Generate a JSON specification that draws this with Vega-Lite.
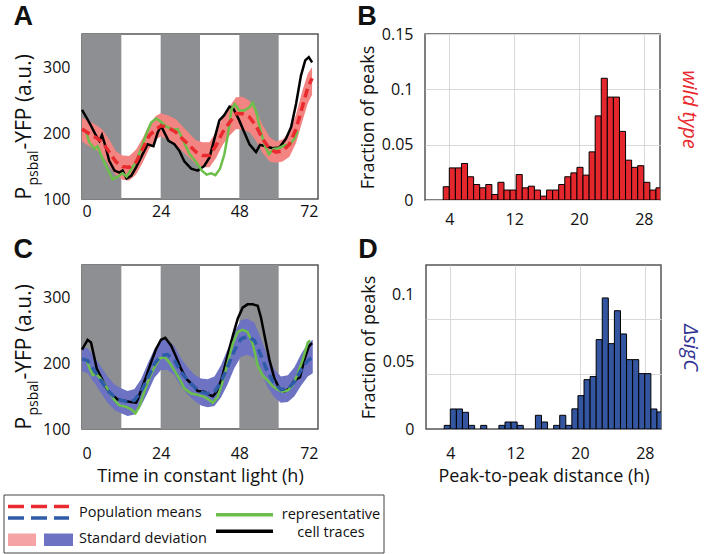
{
  "$schema": "https://vega.github.io/schema/vega-lite/v6.json",
  "background": "white",
  "padding": {"left": 3, "top": 2, "right": 6, "bottom": 0},
  "spacing": 7,
  "datasets": {
    "bands": [{"start": 0, "end": 12}, {"start": 24, "end": 36}, {"start": 48, "end": 60}],
    "wt_mean": [
      {"t": 0, "mean": 206, "lo": 187, "hi": 223}, {"t": 2.2, "mean": 199, "lo": 180, "hi": 218},
      {"t": 4.3, "mean": 193, "lo": 175, "hi": 212}, {"t": 6.3, "mean": 186, "lo": 166, "hi": 205},
      {"t": 8.3, "mean": 171, "lo": 150, "hi": 190}, {"t": 10.4, "mean": 156, "lo": 136, "hi": 172},
      {"t": 12.4, "mean": 149, "lo": 129, "hi": 166}, {"t": 14.4, "mean": 148, "lo": 128, "hi": 165},
      {"t": 16.5, "mean": 156, "lo": 137, "hi": 175}, {"t": 18.5, "mean": 176, "lo": 155, "hi": 192},
      {"t": 20.5, "mean": 196, "lo": 176, "hi": 213}, {"t": 22.6, "mean": 206, "lo": 190, "hi": 226},
      {"t": 24.1, "mean": 211, "lo": 195, "hi": 230}, {"t": 26.1, "mean": 209, "lo": 190, "hi": 227},
      {"t": 28.7, "mean": 201, "lo": 182, "hi": 221}, {"t": 30.7, "mean": 191, "lo": 172, "hi": 210},
      {"t": 32.8, "mean": 181, "lo": 162, "hi": 199}, {"t": 34.8, "mean": 171, "lo": 153, "hi": 189},
      {"t": 36.8, "mean": 166, "lo": 148, "hi": 186}, {"t": 38.9, "mean": 166, "lo": 148, "hi": 186},
      {"t": 40.9, "mean": 181, "lo": 162, "hi": 202}, {"t": 42.9, "mean": 201, "lo": 182, "hi": 224},
      {"t": 45.0, "mean": 216, "lo": 196, "hi": 240}, {"t": 47.0, "mean": 229, "lo": 206, "hi": 254},
      {"t": 49.0, "mean": 229, "lo": 205, "hi": 255}, {"t": 51.1, "mean": 224, "lo": 201, "hi": 249},
      {"t": 53.1, "mean": 211, "lo": 188, "hi": 234}, {"t": 55.1, "mean": 191, "lo": 170, "hi": 212},
      {"t": 57.2, "mean": 176, "lo": 157, "hi": 194}, {"t": 59.2, "mean": 171, "lo": 155, "hi": 187},
      {"t": 61.2, "mean": 173, "lo": 157, "hi": 190}, {"t": 63.3, "mean": 183, "lo": 164, "hi": 202},
      {"t": 65.3, "mean": 206, "lo": 185, "hi": 228}, {"t": 67.3, "mean": 241, "lo": 219, "hi": 265},
      {"t": 68.9, "mean": 269, "lo": 245, "hi": 290}, {"t": 70.2, "mean": 283, "lo": 258, "hi": 300}
    ],
    "wt_black": [
      {"t": 0, "v": 235}, {"t": 1.2, "v": 225}, {"t": 2.75, "v": 211}, {"t": 4.27, "v": 196},
      {"t": 5.3, "v": 188}, {"t": 6.1, "v": 197}, {"t": 7.1, "v": 181}, {"t": 8.3, "v": 158},
      {"t": 9.9, "v": 143}, {"t": 11.4, "v": 140}, {"t": 12.4, "v": 143}, {"t": 13.6, "v": 131},
      {"t": 15.0, "v": 135}, {"t": 16.5, "v": 148}, {"t": 18.5, "v": 168}, {"t": 20.0, "v": 183},
      {"t": 21.8, "v": 180}, {"t": 23.1, "v": 201}, {"t": 24.1, "v": 211}, {"t": 25.1, "v": 201},
      {"t": 26.4, "v": 188}, {"t": 28.2, "v": 183}, {"t": 29.7, "v": 173}, {"t": 31.2, "v": 157},
      {"t": 33.3, "v": 146}, {"t": 35.3, "v": 143}, {"t": 37.3, "v": 150}, {"t": 38.9, "v": 163},
      {"t": 40.4, "v": 191}, {"t": 41.9, "v": 219}, {"t": 43.4, "v": 227}, {"t": 45.0, "v": 240},
      {"t": 46.2, "v": 237}, {"t": 47.8, "v": 221}, {"t": 49.5, "v": 201}, {"t": 51.1, "v": 183},
      {"t": 53.1, "v": 171}, {"t": 54.3, "v": 182}, {"t": 56.1, "v": 180}, {"t": 58.2, "v": 177},
      {"t": 60.2, "v": 178}, {"t": 62.2, "v": 191}, {"t": 63.8, "v": 209}, {"t": 65.3, "v": 244},
      {"t": 66.8, "v": 287}, {"t": 68.1, "v": 310}, {"t": 69.2, "v": 315}, {"t": 70.2, "v": 307}
    ],
    "wt_green": [
      {"t": 1.2, "v": 203}, {"t": 2.2, "v": 186}, {"t": 3.8, "v": 176}, {"t": 4.8, "v": 180},
      {"t": 6.3, "v": 161}, {"t": 7.8, "v": 145}, {"t": 9.4, "v": 130}, {"t": 10.9, "v": 134},
      {"t": 12.4, "v": 139}, {"t": 13.6, "v": 134}, {"t": 15.0, "v": 145}, {"t": 16.5, "v": 156},
      {"t": 18.0, "v": 176}, {"t": 19.5, "v": 197}, {"t": 21.1, "v": 216}, {"t": 22.6, "v": 222},
      {"t": 24.1, "v": 217}, {"t": 25.6, "v": 210}, {"t": 27.7, "v": 205}, {"t": 29.2, "v": 206},
      {"t": 30.7, "v": 191}, {"t": 32.8, "v": 168}, {"t": 34.8, "v": 156}, {"t": 36.6, "v": 143},
      {"t": 38.0, "v": 137}, {"t": 39.4, "v": 139}, {"t": 40.7, "v": 136}, {"t": 42.1, "v": 146},
      {"t": 43.4, "v": 167}, {"t": 44.5, "v": 197}, {"t": 45.6, "v": 236}, {"t": 46.6, "v": 244},
      {"t": 48.0, "v": 234}, {"t": 49.5, "v": 234}, {"t": 51.1, "v": 239}, {"t": 52.1, "v": 246},
      {"t": 53.3, "v": 229}, {"t": 54.6, "v": 201}, {"t": 55.8, "v": 181}, {"t": 57.0, "v": 168},
      {"t": 58.4, "v": 176}, {"t": 60.0, "v": 177}, {"t": 61.7, "v": 181}, {"t": 63.5, "v": 183},
      {"t": 64.8, "v": 191}, {"t": 65.8, "v": 203}
    ],
    "sc_mean": [
      {"t": 0, "mean": 207, "lo": 188, "hi": 224}, {"t": 1.7, "mean": 204.5, "lo": 185, "hi": 223},
      {"t": 3.8, "mean": 189, "lo": 170, "hi": 210}, {"t": 5.8, "mean": 174, "lo": 155, "hi": 195},
      {"t": 7.8, "mean": 159, "lo": 140, "hi": 180}, {"t": 9.9, "mean": 149, "lo": 129, "hi": 168},
      {"t": 11.9, "mean": 144, "lo": 124, "hi": 162}, {"t": 13.9, "mean": 141, "lo": 120, "hi": 158},
      {"t": 16.0, "mean": 144, "lo": 122, "hi": 161}, {"t": 18.0, "mean": 157, "lo": 135, "hi": 176},
      {"t": 20.0, "mean": 177, "lo": 155, "hi": 199}, {"t": 22.1, "mean": 199.5, "lo": 178, "hi": 222},
      {"t": 24.1, "mean": 212, "lo": 190, "hi": 235}, {"t": 26.1, "mean": 213.5, "lo": 190, "hi": 236},
      {"t": 28.2, "mean": 204.5, "lo": 182, "hi": 226}, {"t": 30.2, "mean": 187, "lo": 165, "hi": 208},
      {"t": 32.2, "mean": 174, "lo": 153, "hi": 194}, {"t": 34.3, "mean": 164, "lo": 143, "hi": 183},
      {"t": 36.3, "mean": 156.5, "lo": 136, "hi": 177}, {"t": 38.3, "mean": 154, "lo": 133, "hi": 176},
      {"t": 40.4, "mean": 156.5, "lo": 135, "hi": 180}, {"t": 42.4, "mean": 171.7, "lo": 148, "hi": 197},
      {"t": 44.4, "mean": 194.4, "lo": 168, "hi": 221}, {"t": 46.5, "mean": 219.7, "lo": 193, "hi": 248},
      {"t": 48.5, "mean": 237.4, "lo": 210, "hi": 266}, {"t": 50.5, "mean": 241, "lo": 213, "hi": 268},
      {"t": 52.6, "mean": 235, "lo": 208, "hi": 262}, {"t": 54.6, "mean": 212, "lo": 187, "hi": 238},
      {"t": 56.6, "mean": 187, "lo": 164, "hi": 211}, {"t": 58.7, "mean": 169, "lo": 148, "hi": 191},
      {"t": 60.7, "mean": 160, "lo": 140, "hi": 180}, {"t": 62.8, "mean": 161.6, "lo": 141, "hi": 182},
      {"t": 64.8, "mean": 171.7, "lo": 150, "hi": 194}, {"t": 66.8, "mean": 189.4, "lo": 166, "hi": 214},
      {"t": 68.9, "mean": 204.5, "lo": 180, "hi": 231}, {"t": 70.4, "mean": 209.6, "lo": 185, "hi": 236}
    ],
    "sc_black": [
      {"t": 0, "v": 221}, {"t": 0.7, "v": 227}, {"t": 1.7, "v": 236}, {"t": 2.75, "v": 232},
      {"t": 3.5, "v": 215}, {"t": 4.5, "v": 192}, {"t": 5.8, "v": 179}, {"t": 7.3, "v": 164},
      {"t": 8.9, "v": 152}, {"t": 9.9, "v": 149}, {"t": 10.9, "v": 145}, {"t": 12.9, "v": 143},
      {"t": 15.0, "v": 141}, {"t": 16.5, "v": 140}, {"t": 17.0, "v": 145}, {"t": 18.0, "v": 159},
      {"t": 19.5, "v": 179}, {"t": 21.1, "v": 202}, {"t": 22.6, "v": 222}, {"t": 24.1, "v": 236},
      {"t": 25.4, "v": 239}, {"t": 27.2, "v": 227}, {"t": 28.7, "v": 210}, {"t": 30.2, "v": 192},
      {"t": 31.7, "v": 177}, {"t": 33.8, "v": 167}, {"t": 35.3, "v": 158}, {"t": 37.3, "v": 157},
      {"t": 38.9, "v": 152}, {"t": 39.9, "v": 150}, {"t": 41.4, "v": 159}, {"t": 42.9, "v": 182},
      {"t": 44.4, "v": 212}, {"t": 46.0, "v": 242}, {"t": 47.5, "v": 268}, {"t": 49.0, "v": 285},
      {"t": 50.5, "v": 290}, {"t": 52.1, "v": 290}, {"t": 53.6, "v": 288}, {"t": 54.6, "v": 270},
      {"t": 55.9, "v": 237}, {"t": 57.2, "v": 205}, {"t": 58.7, "v": 177}, {"t": 60.2, "v": 162},
      {"t": 61.7, "v": 157}, {"t": 63.3, "v": 162}, {"t": 64.8, "v": 174}, {"t": 66.5, "v": 179},
      {"t": 67.8, "v": 205}, {"t": 69.2, "v": 226}, {"t": 70.2, "v": 231}
    ],
    "sc_green": [
      {"t": 1.2, "v": 207}, {"t": 2.2, "v": 194}, {"t": 3.25, "v": 182}, {"t": 4.3, "v": 184},
      {"t": 5.5, "v": 178}, {"t": 6.8, "v": 169}, {"t": 8.3, "v": 157}, {"t": 9.9, "v": 144},
      {"t": 11.4, "v": 136}, {"t": 13.4, "v": 134}, {"t": 15.0, "v": 130}, {"t": 16.3, "v": 124},
      {"t": 17.5, "v": 134}, {"t": 19.0, "v": 157}, {"t": 20.5, "v": 177}, {"t": 22.1, "v": 194},
      {"t": 23.6, "v": 207}, {"t": 25.1, "v": 210}, {"t": 26.6, "v": 202}, {"t": 28.2, "v": 189},
      {"t": 29.7, "v": 177}, {"t": 31.2, "v": 162}, {"t": 33.3, "v": 154}, {"t": 35.3, "v": 152},
      {"t": 37.3, "v": 149}, {"t": 38.9, "v": 144}, {"t": 39.9, "v": 140}, {"t": 41.4, "v": 149},
      {"t": 42.9, "v": 172}, {"t": 44.4, "v": 200}, {"t": 46.0, "v": 230}, {"t": 47.5, "v": 248},
      {"t": 49.0, "v": 251}, {"t": 50.5, "v": 248}, {"t": 52.1, "v": 230}, {"t": 53.6, "v": 197},
      {"t": 55.1, "v": 182}, {"t": 56.6, "v": 174}, {"t": 58.2, "v": 165}, {"t": 59.7, "v": 160},
      {"t": 61.2, "v": 157}, {"t": 62.8, "v": 159}, {"t": 64.3, "v": 167}, {"t": 65.8, "v": 184},
      {"t": 67.3, "v": 205}, {"t": 68.9, "v": 232}, {"t": 69.6, "v": 235}
    ],
    "wt_hist": [
      {"b0": 3.25, "b1": 4.0, "frac": 0.012}, {"b0": 4.0, "b1": 4.75, "frac": 0.029},
      {"b0": 4.75, "b1": 5.5, "frac": 0.029}, {"b0": 5.5, "b1": 6.25, "frac": 0.033},
      {"b0": 6.25, "b1": 7.0, "frac": 0.021}, {"b0": 7.0, "b1": 7.75, "frac": 0.014},
      {"b0": 7.75, "b1": 8.5, "frac": 0.011}, {"b0": 8.5, "b1": 9.25, "frac": 0.014},
      {"b0": 9.25, "b1": 10.0, "frac": 0.005}, {"b0": 10.0, "b1": 10.75, "frac": 0.016},
      {"b0": 10.75, "b1": 11.5, "frac": 0.009}, {"b0": 11.5, "b1": 12.25, "frac": 0.009},
      {"b0": 12.25, "b1": 13.0, "frac": 0.023}, {"b0": 13.0, "b1": 13.75, "frac": 0.011},
      {"b0": 13.75, "b1": 14.5, "frac": 0.0125}, {"b0": 14.5, "b1": 15.25, "frac": 0.009},
      {"b0": 15.25, "b1": 16.0, "frac": 0.0035}, {"b0": 16.0, "b1": 16.75, "frac": 0.009},
      {"b0": 16.75, "b1": 17.5, "frac": 0.009}, {"b0": 17.5, "b1": 18.25, "frac": 0.014},
      {"b0": 18.25, "b1": 19.0, "frac": 0.021}, {"b0": 19.0, "b1": 19.75, "frac": 0.0245},
      {"b0": 19.75, "b1": 20.5, "frac": 0.0295}, {"b0": 20.5, "b1": 21.25, "frac": 0.0225},
      {"b0": 21.25, "b1": 22.0, "frac": 0.0435}, {"b0": 22.0, "b1": 22.75, "frac": 0.076},
      {"b0": 22.75, "b1": 23.5, "frac": 0.110}, {"b0": 23.5, "b1": 24.25, "frac": 0.093},
      {"b0": 24.25, "b1": 25.0, "frac": 0.093}, {"b0": 25.0, "b1": 25.75, "frac": 0.062},
      {"b0": 25.75, "b1": 26.5, "frac": 0.036}, {"b0": 26.5, "b1": 27.25, "frac": 0.0295},
      {"b0": 27.25, "b1": 28.0, "frac": 0.031}, {"b0": 28.0, "b1": 28.75, "frac": 0.016},
      {"b0": 28.75, "b1": 29.5, "frac": 0.009}, {"b0": 29.5, "b1": 30.25, "frac": 0.011}
    ],
    "sc_hist": [
      {"b0": 3.25, "b1": 4.0, "frac": 0.0027}, {"b0": 4.0, "b1": 4.75, "frac": 0.0149},
      {"b0": 4.75, "b1": 5.5, "frac": 0.0149}, {"b0": 5.5, "b1": 6.25, "frac": 0.0124},
      {"b0": 6.25, "b1": 7.0, "frac": 0.0027}, {"b0": 7.75, "b1": 8.5, "frac": 0.0027},
      {"b0": 10.0, "b1": 10.75, "frac": 0.0027}, {"b0": 10.75, "b1": 11.5, "frac": 0.0052},
      {"b0": 11.5, "b1": 12.25, "frac": 0.0052}, {"b0": 12.25, "b1": 13.0, "frac": 0.0027},
      {"b0": 14.5, "b1": 15.25, "frac": 0.0102}, {"b0": 15.25, "b1": 16.0, "frac": 0.0052},
      {"b0": 16.75, "b1": 17.5, "frac": 0.0027}, {"b0": 17.5, "b1": 18.25, "frac": 0.0102},
      {"b0": 18.25, "b1": 19.0, "frac": 0.0027}, {"b0": 19.0, "b1": 19.75, "frac": 0.015},
      {"b0": 19.75, "b1": 20.5, "frac": 0.0248}, {"b0": 20.5, "b1": 21.25, "frac": 0.0367},
      {"b0": 21.25, "b1": 22.0, "frac": 0.039}, {"b0": 22.0, "b1": 22.75, "frac": 0.0665},
      {"b0": 22.75, "b1": 23.5, "frac": 0.0975}, {"b0": 23.5, "b1": 24.25, "frac": 0.0635},
      {"b0": 24.25, "b1": 25.0, "frac": 0.088}, {"b0": 25.0, "b1": 25.75, "frac": 0.0707},
      {"b0": 25.75, "b1": 26.5, "frac": 0.0516}, {"b0": 26.5, "b1": 27.25, "frac": 0.0516},
      {"b0": 27.25, "b1": 28.0, "frac": 0.0412}, {"b0": 28.0, "b1": 28.75, "frac": 0.0412},
      {"b0": 28.75, "b1": 29.5, "frac": 0.0149}, {"b0": 29.5, "b1": 30.25, "frac": 0.0127}
    ],
    "legend": [
      {"label": "Population means"}, {"label": "Standard deviation"},
      {"label": "representative"}, {"label": "cell traces"}
    ]
  },
  "vconcat": [
    {
      "hconcat": [
        {
          "width": 236, "height": 165,
          "title": {"text": "A", "offset": 3},
          "layer": [
            {"data": {"name": "bands"}, "mark": {"type": "rect", "color": "#8e8f92"},
             "encoding": {
               "x": {"field": "start", "type": "quantitative", "title": null, "scale": {"domain": [0, 72], "nice": false},
                     "axis": {"values": [0, 24, 48, 72], "labelPadding": 4.5, "grid": false}},
               "x2": {"field": "end"}}},
            {"data": {"name": "wt_mean"}, "mark": {"type": "area", "color": "#f28482", "opacity": 1},
             "encoding": {
               "x": {"field": "t", "type": "quantitative", "title": null},
               "y": {"field": "lo", "type": "quantitative", "scale": {"domain": [100, 350], "nice": false},
                     "axis": {"orient": "left", "values": [100, 200, 300], "grid": false, "title": "P", "titleFontSize": 21,
                              "titleAngle": -90, "titleAlign": "left", "titleBaseline": "alphabetic",
                              "titleX": -51.5, "titleY": 165}},
               "y2": {"field": "hi"}}},
            {"data": {"name": "wt_black"}, "mark": {"type": "line", "color": "#000000", "strokeWidth": 2.5},
             "encoding": {
               "x": {"field": "t", "type": "quantitative", "title": null},
               "y": {"field": "v", "type": "quantitative",
                     "axis": {"orient": "left", "labels": false, "grid": false, "title": "psbal", "titleFontSize": 14,
                              "titleAngle": -90, "titleAlign": "left", "titleBaseline": "alphabetic",
                              "titleX": -45, "titleY": 151}}}},
            {"data": {"name": "wt_green"}, "mark": {"type": "line", "color": "#6cbf4a", "strokeWidth": 2.5},
             "encoding": {
               "x": {"field": "t", "type": "quantitative", "title": null},
               "y": {"field": "v", "type": "quantitative",
                     "axis": {"orient": "left", "labels": false, "grid": false, "title": "-YFP (a.u.)", "titleFontSize": 21,
                              "titleAngle": -90, "titleAlign": "left", "titleBaseline": "alphabetic",
                              "titleX": -51.5, "titleY": 115}}}},
            {"data": {"name": "wt_mean"}, "mark": {"type": "line", "color": "#e92b2f", "strokeWidth": 3.5, "strokeDash": [9, 5]},
             "encoding": {
               "x": {"field": "t", "type": "quantitative", "title": null},
               "y": {"field": "mean", "type": "quantitative", "axis": null}}}
          ],
          "resolve": {"axis": {"y": "independent"}}
        },
        {
          "width": 235, "height": 166,
          "title": {"text": "B", "dx": -2, "offset": -5},
          "data": {"name": "wt_hist"},
          "layer": [
            {"mark": {"type": "bar", "color": "#e3272d", "stroke": "#000000", "strokeWidth": 1, "clip": true},
             "encoding": {
               "x": {"field": "b0", "type": "quantitative", "title": null, "scale": {"domain": [1, 30], "nice": false},
                     "axis": {"values": [4, 8, 12, 16, 20, 24, 28], "grid": true, "labelPadding": 11}},
               "x2": {"field": "b1"},
               "y": {"field": "frac", "type": "quantitative", "scale": {"domain": [0, 0.15], "nice": false},
                     "axis": {"orient": "left", "values": [0, 0.05, 0.1, 0.15], "format": ".2~f", "grid": true,
                              "title": "Fraction of peaks"}},
               "y2": {"datum": 0}}},
            {"mark": {"type": "bar", "opacity": 0, "clip": true},
             "encoding": {
               "x": {"field": "b0", "type": "quantitative", "title": null},
               "x2": {"field": "b1"},
               "y": {"field": "frac", "type": "quantitative",
                     "axis": {"orient": "right", "labels": false, "grid": false, "title": "wild type",
                              "titleColor": "#e8262b", "titleFontStyle": "italic", "titleFontSize": 20,
                              "titleAngle": 90, "titleAlign": "center", "titleBaseline": "alphabetic",
                              "titleX": 22, "titleY": 75}},
               "y2": {"datum": 0}}}
          ],
          "resolve": {"axis": {"y": "independent"}}
        }
      ],
      "spacing": 36
    },
    {
      "hconcat": [
        {
          "width": 236, "height": 164,
          "title": {"text": "C", "offset": 1},
          "layer": [
            {"data": {"name": "bands"}, "mark": {"type": "rect", "color": "#8e8f92"},
             "encoding": {
               "x": {"field": "start", "type": "quantitative", "title": "Time in constant light (h)", "scale": {"domain": [0, 72], "nice": false},
                     "axis": {"values": [0, 24, 48, 72], "labelPadding": 16, "grid": false, "titlePadding": 6.5}},
               "x2": {"field": "end"}}},
            {"data": {"name": "sc_mean"}, "mark": {"type": "area", "color": "#6d72c3", "opacity": 1},
             "encoding": {
               "x": {"field": "t", "type": "quantitative", "title": "Time in constant light (h)"},
               "y": {"field": "lo", "type": "quantitative", "scale": {"domain": [100, 350], "nice": false},
                     "axis": {"orient": "left", "values": [100, 200, 300], "grid": false, "title": "P", "titleFontSize": 21,
                              "titleAngle": -90, "titleAlign": "left", "titleBaseline": "alphabetic",
                              "titleX": -51.5, "titleY": 164}},
               "y2": {"field": "hi"}}},
            {"data": {"name": "sc_black"}, "mark": {"type": "line", "color": "#000000", "strokeWidth": 2.5},
             "encoding": {
               "x": {"field": "t", "type": "quantitative", "title": "Time in constant light (h)"},
               "y": {"field": "v", "type": "quantitative",
                     "axis": {"orient": "left", "labels": false, "grid": false, "title": "psbal", "titleFontSize": 14,
                              "titleAngle": -90, "titleAlign": "left", "titleBaseline": "alphabetic",
                              "titleX": -45, "titleY": 150}}}},
            {"data": {"name": "sc_green"}, "mark": {"type": "line", "color": "#6cbf4a", "strokeWidth": 2.5},
             "encoding": {
               "x": {"field": "t", "type": "quantitative", "title": "Time in constant light (h)"},
               "y": {"field": "v", "type": "quantitative",
                     "axis": {"orient": "left", "labels": false, "grid": false, "title": "-YFP (a.u.)", "titleFontSize": 21,
                              "titleAngle": -90, "titleAlign": "left", "titleBaseline": "alphabetic",
                              "titleX": -51.5, "titleY": 114}}}},
            {"data": {"name": "sc_mean"}, "mark": {"type": "line", "color": "#2f5ca8", "strokeWidth": 3.5, "strokeDash": [9, 5]},
             "encoding": {
               "x": {"field": "t", "type": "quantitative", "title": "Time in constant light (h)"},
               "y": {"field": "mean", "type": "quantitative", "axis": null}}}
          ],
          "resolve": {"axis": {"y": "independent"}}
        },
        {
          "width": 235, "height": 164,
          "title": {"text": "D", "dx": -2, "offset": 1},
          "data": {"name": "sc_hist"},
          "layer": [
            {"mark": {"type": "bar", "color": "#34559f", "stroke": "#000000", "strokeWidth": 1, "clip": true},
             "encoding": {
               "x": {"field": "b0", "type": "quantitative", "title": "Peak-to-peak distance (h)", "scale": {"domain": [1, 30], "nice": false},
                     "axis": {"values": [4, 8, 12, 16, 20, 24, 28], "grid": true, "labelPadding": 16, "titlePadding": 6.5}},
               "x2": {"field": "b1"},
               "y": {"field": "frac", "type": "quantitative", "scale": {"domain": [0, 0.122], "nice": false},
                     "axis": {"orient": "left", "values": [0, 0.05, 0.1], "format": ".2~f", "grid": false,
                              "title": "Fraction of peaks"}},
               "y2": {"datum": 0}}},
            {"mark": {"type": "bar", "opacity": 0, "clip": true},
             "encoding": {
               "x": {"field": "b0", "type": "quantitative", "title": "Peak-to-peak distance (h)"},
               "x2": {"field": "b1"},
               "y": {"field": "frac", "type": "quantitative",
                     "axis": {"orient": "right", "values": [0.041, 0.082], "labels": false, "grid": true, "title": "\u0394sigC",
                              "titleColor": "#2e3191", "titleFontStyle": "italic", "titleFontSize": 20,
                              "titleAngle": 90, "titleAlign": "center", "titleBaseline": "alphabetic",
                              "titleX": 22, "titleY": 82}},
               "y2": {"datum": 0}}}
          ],
          "resolve": {"axis": {"y": "independent"}}
        }
      ],
      "spacing": 36
    },
    {
      "width": 302, "height": 58,
      "view": {"stroke": null},
      "data": {"name": "legend"},
      "layer": [
        {"transform": [{"filter": "datum.label === 'Population means'"}],
         "mark": {"type": "rect", "filled": false, "color": "#444444", "strokeWidth": 1},
         "encoding": {"x": {"datum": -78, "type": "quantitative", "scale": {"domain": [0, 302], "nice": false, "zero": false}, "axis": null},
                      "x2": {"datum": 302},
                      "y": {"datum": 0, "type": "quantitative", "scale": {"domain": [0, 58], "nice": false, "reverse": true}, "axis": null},
                      "y2": {"datum": 58}}},
        {"transform": [{"filter": "datum.label === 'Population means'"}],
         "mark": {"type": "rule", "color": "#e92b2f", "strokeWidth": 3.5, "strokeDash": [16, 7]},
         "encoding": {"x": {"datum": -74, "type": "quantitative", "axis": null},
                      "x2": {"datum": -13},
                      "y": {"datum": 11.5, "type": "quantitative", "axis": null}}},
        {"transform": [{"filter": "datum.label === 'Population means'"}],
         "mark": {"type": "rule", "color": "#2f5ca8", "strokeWidth": 3.5, "strokeDash": [16, 7]},
         "encoding": {"x": {"datum": -74, "type": "quantitative", "axis": null}, "x2": {"datum": -13},
                      "y": {"datum": 23, "type": "quantitative", "axis": null}}},
        {"transform": [{"filter": "datum.label === 'Standard deviation'"}],
         "mark": {"type": "rect", "color": "#f5a3a5"},
         "encoding": {"x": {"datum": -74, "type": "quantitative", "axis": null}, "x2": {"datum": -46},
                      "y": {"datum": 38.5, "type": "quantitative", "axis": null}, "y2": {"datum": 51}}},
        {"transform": [{"filter": "datum.label === 'Standard deviation'"}],
         "mark": {"type": "rect", "color": "#6d72c3"},
         "encoding": {"x": {"datum": -38, "type": "quantitative", "axis": null}, "x2": {"datum": -9},
                      "y": {"datum": 38.5, "type": "quantitative", "axis": null}, "y2": {"datum": 51}}},
        {"transform": [{"filter": "datum.label === 'representative'"}],
         "mark": {"type": "rule", "color": "#6cbf4a", "strokeWidth": 3.5},
         "encoding": {"x": {"datum": 134, "type": "quantitative", "axis": null}, "x2": {"datum": 191},
                      "y": {"datum": 19.7, "type": "quantitative", "axis": null}}},
        {"transform": [{"filter": "datum.label === 'cell traces'"}],
         "mark": {"type": "rule", "color": "#000000", "strokeWidth": 3.5},
         "encoding": {"x": {"datum": 134, "type": "quantitative", "axis": null}, "x2": {"datum": 191},
                      "y": {"datum": 36.3, "type": "quantitative", "axis": null}}},
        {"transform": [{"filter": "datum.label === 'Population means'"}],
         "mark": {"type": "text", "align": "left", "baseline": "middle", "fontSize": 14.5, "color": "#111111"},
         "encoding": {"x": {"datum": -3, "type": "quantitative", "axis": null},
                      "y": {"datum": 18, "type": "quantitative", "axis": null},
                      "text": {"field": "label"}}},
        {"transform": [{"filter": "datum.label === 'Standard deviation'"}],
         "mark": {"type": "text", "align": "left", "baseline": "middle", "fontSize": 14.5, "color": "#111111"},
         "encoding": {"x": {"datum": -3, "type": "quantitative", "axis": null},
                      "y": {"datum": 44, "type": "quantitative", "axis": null},
                      "text": {"field": "label"}}},
        {"transform": [{"filter": "datum.label === 'representative'"}],
         "mark": {"type": "text", "align": "center", "baseline": "middle", "fontSize": 14.5, "color": "#111111"},
         "encoding": {"x": {"datum": 249, "type": "quantitative", "axis": null},
                      "y": {"datum": 19.5, "type": "quantitative", "axis": null},
                      "text": {"field": "label"}}},
        {"transform": [{"filter": "datum.label === 'cell traces'"}],
         "mark": {"type": "text", "align": "center", "baseline": "middle", "fontSize": 14.5, "color": "#111111"},
         "encoding": {"x": {"datum": 249, "type": "quantitative", "axis": null},
                      "y": {"datum": 38, "type": "quantitative", "axis": null},
                      "text": {"field": "label"}}}
      ]
    }
  ],
  "config": {
    "font": "Open Sans",
    "view": {"stroke": "#555555", "strokeWidth": 1.5},
    "axis": {"labelFontSize": 16, "titleFontSize": 18, "labelColor": "#111111", "titleColor": "#111111",
             "titleFontWeight": "normal", "ticks": false, "domain": false, "gridColor": "#d9d9d9", "gridWidth": 1,
             "labelPadding": 12},
    "title": {"font": "Liberation Sans", "fontSize": 27, "fontWeight": "bold", "anchor": "start", "color": "#111111"}
  }
}
